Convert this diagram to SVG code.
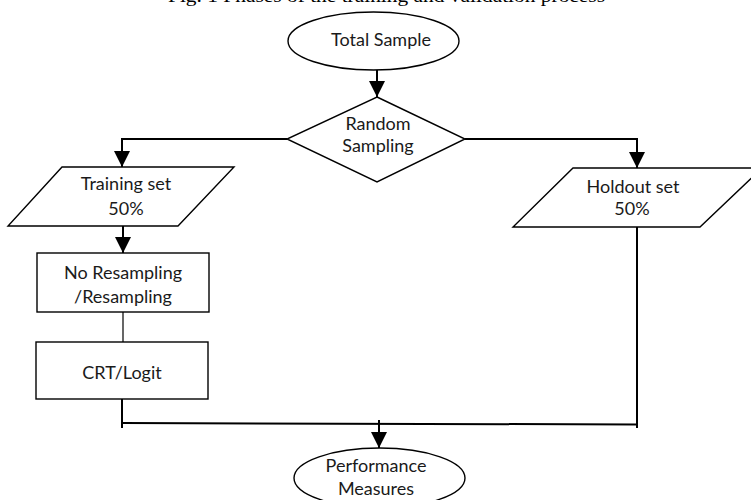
<svg xmlns="http://www.w3.org/2000/svg" width="751" height="500" viewBox="0 0 751 500">
<style>
.shape{fill:#fff;stroke:#000;stroke-width:1.4}
.conn{fill:none;stroke:#000;stroke-width:2}
.thin{fill:none;stroke:#000;stroke-width:1.2}
.lbl{font-family:Lato,"Liberation Sans",sans-serif;font-size:18px;fill:#1a1a1a;text-anchor:middle}
.title{font-family:"Liberation Serif","Times New Roman",serif;font-size:18px;fill:#000}
</style>
<defs>
<marker id="arr" markerUnits="userSpaceOnUse" markerWidth="16" markerHeight="16" viewBox="0 0 16 16" refX="16" refY="8" orient="auto">
<path d="M0,0 L16,8 L0,16 Z" fill="#000"/>
</marker>
</defs>
<rect width="751" height="500" fill="#fff"/>
<text class="title" x="168" y="2" textLength="437" lengthAdjust="spacingAndGlyphs">Fig. 1 Phases of the training and validation process</text>

<g id="connectors">
<line class="conn" x1="377" y1="70" x2="377" y2="97" marker-end="url(#arr)"/>
<polyline class="conn" points="287,139 122,139 122,167" marker-end="url(#arr)"/>
<polyline class="conn" points="465,139 637,139 637,168" marker-end="url(#arr)"/>
<line class="conn" x1="123" y1="226" x2="123" y2="253" marker-end="url(#arr)"/>
<line class="thin" x1="123" y1="312" x2="123" y2="342"/>
<line class="conn" x1="122" y1="399" x2="122" y2="428"/>
<line class="conn" x1="637" y1="227" x2="637" y2="428"/>
<line class="conn" x1="123" y1="423" x2="637" y2="424.5"/>
<line class="conn" x1="379" y1="420" x2="379" y2="448" marker-end="url(#arr)"/>
</g>

<g id="total-sample">
<ellipse class="shape" cx="373.5" cy="41" rx="85.5" ry="29"/>
<text class="lbl" x="381" y="46">Total Sample</text>
</g>

<g id="random-sampling">
<polygon class="shape" points="377,97 465,139 377,182 287,139"/>
<text class="lbl" x="378" y="130">Random</text>
<text class="lbl" x="378" y="152">Sampling</text>
</g>

<g id="training-set">
<polygon class="shape" points="62,167 234,167 178,226 8,226"/>
<text class="lbl" x="126" y="190">Training set</text>
<text class="lbl" x="126" y="215">50%</text>
</g>

<g id="holdout-set">
<polygon class="shape" points="573,168 762,168 700,227 513,227"/>
<text class="lbl" x="633" y="193">Holdout set</text>
<text class="lbl" x="632" y="215">50%</text>
</g>

<g id="resampling">
<rect class="shape" x="37" y="253" width="172" height="59"/>
<text class="lbl" x="123" y="279">No Resampling</text>
<text class="lbl" x="123" y="303">/Resampling</text>
</g>

<g id="crt-logit">
<rect class="shape" x="36" y="342" width="172" height="57"/>
<text class="lbl" x="122" y="379">CRT/Logit</text>
</g>

<g id="performance">
<ellipse class="shape" cx="379.5" cy="478" rx="85.5" ry="30"/>
<text class="lbl" x="376" y="472">Performance</text>
<text class="lbl" x="376" y="495">Measures</text>
</g>
</svg>
